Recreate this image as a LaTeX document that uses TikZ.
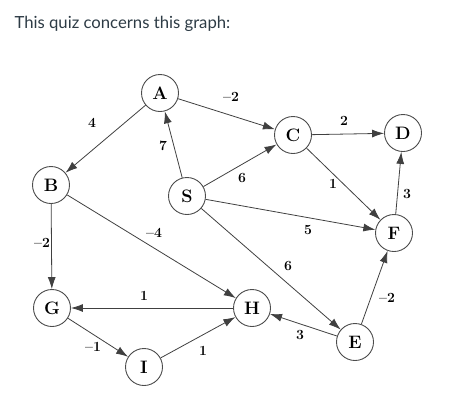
\documentclass[tikz,border=0pt]{standalone}
\usepackage{fontspec}
\newfontfamily\quizfont{Lato}
\usepackage{tikz}
\usetikzlibrary{arrows.meta}
\definecolor{quizink}{HTML}{2D3B45}

\begin{document}
\begin{tikzpicture}[
    x=1pt, y=-1pt,
    vtx/.style={circle, draw=black!70, line width=0.9pt, fill=white,
                minimum size=37pt, inner sep=0pt,
                font=\fontsize{18}{18}\selectfont\bfseries},
    wt/.style={inner sep=1pt, font=\fontsize{14}{14}\selectfont\bfseries},
    arr/.style={-{Latex[length=12pt,width=8pt]}, line width=0.8pt, black!75},
]
  \useasboundingbox (0,0) rectangle (452,405);

  \node[anchor=base west, text=quizink,
        font=\quizfont\fontsize{16.7}{17}\selectfont] (title) at (11,28)
    {This quiz concerns this graph:};

  % vertices
  \node[vtx] (A) at (160, 93) {A};
  \node[vtx] (B) at ( 51,185) {B};
  \node[vtx] (C) at (293,135) {C};
  \node[vtx] (D) at (403,133) {D};
  \node[vtx] (S) at (187,196) {S};
  \node[vtx] (F) at (394,233) {F};
  \node[vtx] (G) at ( 52,308) {G};
  \node[vtx] (H) at (252,308) {H};
  \node[vtx] (E) at (355,342) {E};
  \node[vtx] (I) at (144,367) {I};

  % edges
  \draw[arr] (A) -- (C);
  \draw[arr] (A) -- (B);
  \draw[arr] (S) -- (A);
  \draw[arr] (S) -- (C);
  \draw[arr] (S) -- (F);
  \draw[arr] (S) -- (E);
  \draw[arr] (C) -- (D);
  \draw[arr] (C) -- (F);
  \draw[arr] (F) -- (D);
  \draw[arr] (B) -- (G);
  \draw[arr] (B) -- (H);
  \draw[arr] (H) -- (G);
  \draw[arr] (G) -- (I);
  \draw[arr] (I) -- (H);
  \draw[arr] (E) -- (H);
  \draw[arr] (E) -- (F);

  % weights
  \node[wt] (wAC) at (231, 97) {--2};
  \node[wt] (wAB) at ( 92,123) {4};
  \node[wt] (wSA) at (163,146) {7};
  \node[wt] (wSC) at (242,178) {6};
  \node[wt] (wSF) at (308,230) {5};
  \node[wt] (wSE) at (288,266) {6};
  \node[wt] (wCD) at (344,121) {2};
  \node[wt] (wCF) at (333,184) {1};
  \node[wt] (wFD) at (407,194) {3};
  \node[wt] (wBG) at ( 42,243) {--2};
  \node[wt] (wBH) at (154,233) {--4};
  \node[wt] (wHG) at (144,296) {1};
  \node[wt] (wGI) at ( 93,347) {--1};
  \node[wt] (wIH) at (203,351) {1};
  \node[wt] (wEH) at (300,335) {3};
  \node[wt] (wEF) at (387,298) {--2};

\end{tikzpicture}
\end{document}
